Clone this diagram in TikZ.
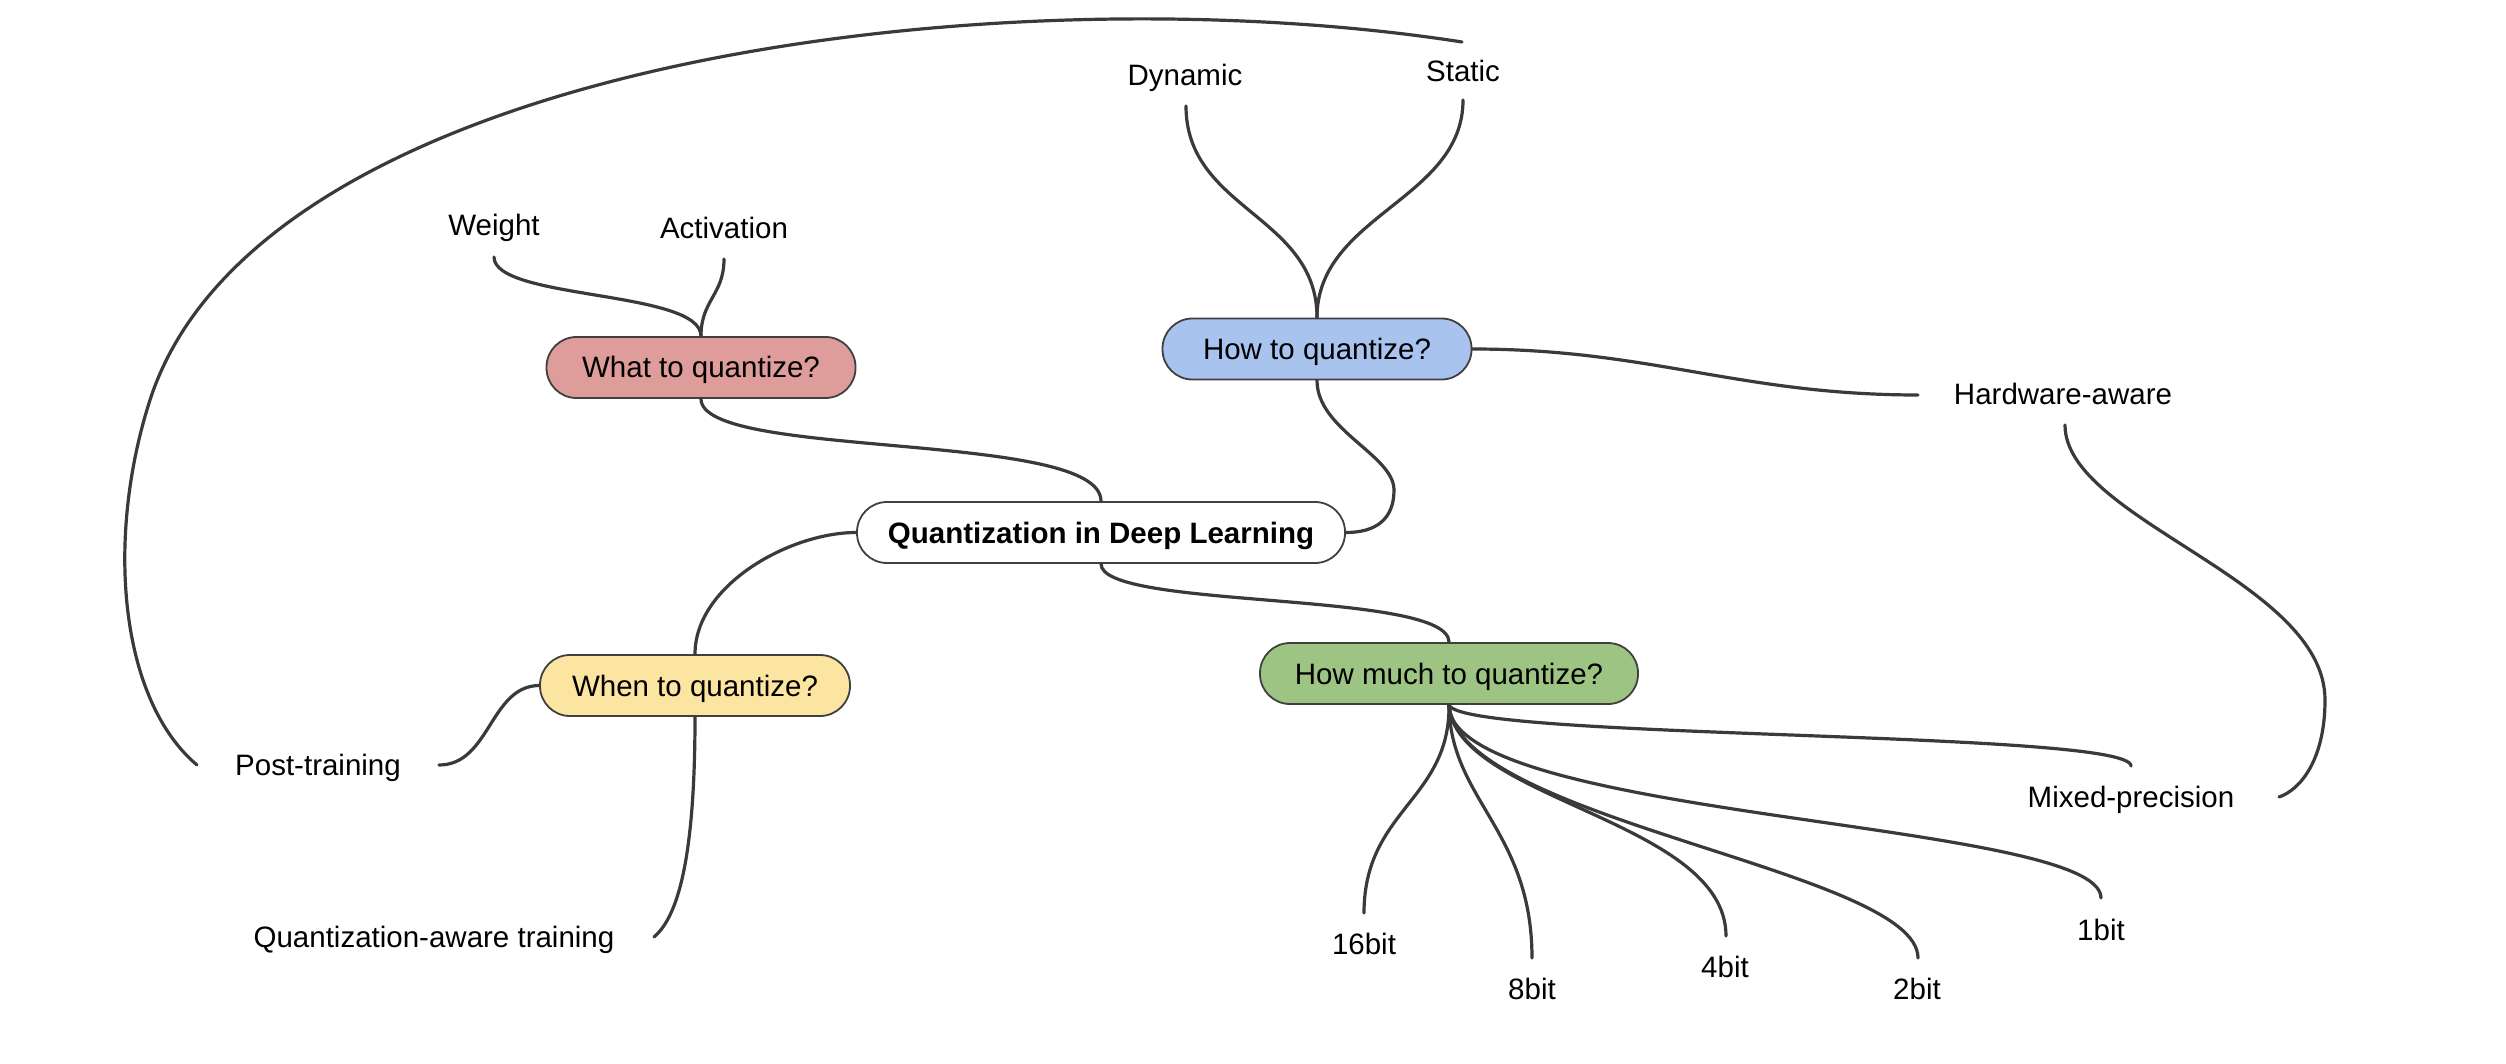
\documentclass[tikz,border=0pt]{standalone}
\usepackage{fontspec}
\setmainfont{Liberation Sans}
\definecolor{linec}{HTML}{3A3A3A}
\definecolor{boxborder}{HTML}{404040}
\definecolor{redf}{HTML}{DE9C9A}
\definecolor{bluef}{HTML}{A9C3EF}
\definecolor{yellowf}{HTML}{FCE4A1}
\definecolor{greenf}{HTML}{9DC483}
\begin{document}
\begin{tikzpicture}[x=1pt,y=-1pt,
  topic/.style={draw=boxborder,line width=1.8pt,rounded corners=30pt,minimum height=61pt,inner xsep=0pt,text height=21pt,text depth=0pt,font=\fontsize{29.5}{34}\selectfont},
  leaf/.style={anchor=base,inner sep=0pt,font=\fontsize{29.5}{34}\selectfont},
  conn/.style={draw=linec,line width=3.2pt,line cap=round}]
\fill[white] (0,0) rectangle (2506,1064);
\useasboundingbox (0,0) rectangle (2506,1064);

% topic nodes
\node[topic,fill=white,minimum width=488pt,font=\fontsize{29.5}{34}\selectfont\bfseries] (root) at (1101,532.5) {Quantization in Deep Learning};
\node[topic,fill=redf,minimum width=309pt] (what) at (701,367.5) {What to quantize?};
\node[topic,fill=bluef,minimum width=309pt] (how) at (1317,349) {How to quantize?};
\node[topic,fill=yellowf,minimum width=310pt] (when) at (695,685.5) {When to quantize?};
\node[topic,fill=greenf,minimum width=378pt] (much) at (1449,673.5) {How much to quantize?};

% leaf labels
\node[leaf] (weight) at (494,236) {Weight};
\node[leaf] (act) at (724,239) {Activation};
\node[leaf] (dyn) at (1185,86) {Dynamic};
\node[leaf] (stat) at (1463,82) {Static};
\node[leaf] (hw) at (2063,405) {Hardware-aware};
\node[leaf] (mixed) at (2131,807) {Mixed-precision};
\node[leaf] (b16) at (1364,954) {16bit};
\node[leaf] (b8) at (1532,999) {8bit};
\node[leaf] (b4) at (1725,977) {4bit};
\node[leaf] (b2) at (1917,999) {2bit};
\node[leaf] (b1) at (2101,940) {1bit};
\node[leaf] (post) at (318,775) {Post-training};
\node[leaf] (qat) at (434,947) {Quantization-aware training};

% connector free ends
\coordinate (weightE) at (494,257);
\coordinate (actE) at (724,259);
\coordinate (dynE) at (1186,106);
\coordinate (statE) at (1463,100);
\coordinate (statT) at (1462,42);
\coordinate (hwL) at (1918,395);
\coordinate (hwB) at (2065,425);
\coordinate (mixR) at (2279,797);
\coordinate (mixT) at (2131,766);
\coordinate (b16E) at (1364,913);
\coordinate (b8E) at (1532,958);
\coordinate (b4E) at (1726,936);
\coordinate (b2E) at (1918,958);
\coordinate (b1E) at (2101,898);
\coordinate (postR) at (439,765);
\coordinate (postL) at (197,765);
\coordinate (qatR) at (654,937);

% connectors
\draw[conn] (weightE) .. controls (494,300) and (701,290) .. (what.north);
\draw[conn] (actE) .. controls (724,295) and (701,300) .. (what.north);
\draw[conn] (what.south) .. controls (701,460) and (1101,430) .. (root.north);
\draw[conn] (how.south) .. controls (1317,430) and (1394,455) .. (1394,490) .. controls (1394,520) and (1375,532.5) .. (root.east);
\draw[conn] (dynE) .. controls (1186,210) and (1317,215) .. (how.north);
\draw[conn] (statE) .. controls (1463,200) and (1317,215) .. (how.north);
\draw[conn] (how.east) .. controls (1650,349) and (1740,395) .. (hwL);
\draw[conn] (hwB) .. controls (2065,520) and (2325,580) .. (2325,700) .. controls (2325,760) and (2300,790) .. (mixR);
\draw[conn] (root.south) .. controls (1101,610) and (1449,590) .. (much.north);
\draw[conn] (root.west) .. controls (790,532.5) and (695,585) .. (when.north);
\draw[conn] (when.west) .. controls (490,686) and (490,765) .. (postR);
\draw[conn] (when.south) .. controls (695,850) and (680,915) .. (qatR);
\draw[conn] (postL) .. controls (120,700) and (105,540) .. (150,400) .. controls (260,60) and (1000,-30) .. (statT);
\draw[conn] (much.south) .. controls (1450,800) and (1364,810) .. (b16E);
\draw[conn] (much.south) .. controls (1450,800) and (1532,830) .. (b8E);
\draw[conn] (much.south) .. controls (1455,800) and (1726,820) .. (b4E);
\draw[conn] (much.south) .. controls (1455,820) and (1918,870) .. (b2E);
\draw[conn] (much.south) .. controls (1450,820) and (2101,820) .. (b1E);
\draw[conn] (much.south) .. controls (1460,740) and (2131,730) .. (mixT);
\end{tikzpicture}
\end{document}
